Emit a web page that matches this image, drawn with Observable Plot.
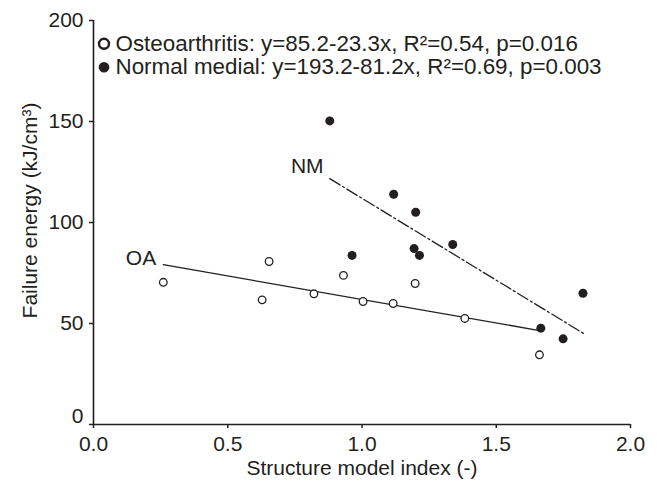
<!DOCTYPE html>
<html>
<head>
<meta charset="utf-8">
<script src="https://cdn.jsdelivr.net/npm/d3@7"></script>
<script src="https://cdn.jsdelivr.net/npm/@observablehq/plot@0.6"></script>
<style>
  html, body { margin: 0; padding: 0; background: #fff; }
</style>
</head>
<body>
<div id="chart"></div>
<script>
// Osteoarthritis (open circles)
const oaX = [0.26, 0.628, 0.654, 0.821, 0.931, 1.004, 1.116, 1.198, 1.383, 1.661];
const oaY = [70.4, 61.7, 80.7, 64.7, 73.8, 60.9, 59.9, 69.8, 52.5, 34.5];
// Normal medial (filled circles)
const nmX = [0.880, 0.963, 1.118, 1.194, 1.200, 1.214, 1.338, 1.666, 1.749, 1.823];
const nmY = [150.3, 83.7, 114.0, 87.1, 105.1, 83.7, 89.1, 47.7, 42.4, 65.0];
// Regression line end points
const oaLineX = [0.26, 1.666];
const oaLineY = [79.1, 46.4];
const nmLineX = [0.88, 1.826];
const nmLineY = [121.7, 45.0];
// Line labels
const lineLabels = ["OA", "NM"];
const lineLabelX = [0.177, 0.796];
const lineLabelY = [82.3, 127.9];
// Legend texts
const legendTexts = [
  "Osteoarthritis: y=85.2-23.3x, R\u00B2=0.54, p=0.016",
  "Normal medial: y=193.2-81.2x, R\u00B2=0.69, p=0.003"
];
const xTicks = [0, 0.5, 1.0, 1.5, 2.0];
const yTicks = [0, 50, 100, 150, 200];
const xLabel = "Structure model index (-)";
const yLabel = "Failure energy (kJ/cm\u00B3)";

const ink = "#231f20";
const oa = oaX.map((x, i) => ({x, y: oaY[i]}));
const nm = nmX.map((x, i) => ({x, y: nmY[i]}));
const oaLine = oaLineX.map((x, i) => ({x, y: oaLineY[i]}));
const nmLine = nmLineX.map((x, i) => ({x, y: nmLineY[i]}));
const labels = lineLabels.map((t, i) => ({t, x: lineLabelX[i], y: lineLabelY[i]}));

const chart = Plot.plot({
  width: 657,
  height: 486,
  marginLeft: 93,
  marginRight: 27,
  marginTop: 20,
  marginBottom: 62,
  style: {fontFamily: "'Liberation Sans', Arial, sans-serif", fontSize: "21px", color: ink, background: "#fff"},
  x: {domain: [0, 2]},
  y: {domain: [0, 200]},
  marks: [
    Plot.axisX(xTicks, {tickSize: 4, tickPadding: 8, tickFormat: d3.format(".1f"), stroke: ink, fill: ink, strokeWidth: 1.5, label: null}),
    Plot.axisY(yTicks, {tickSize: 4, tickPadding: 6, tickFormat: d => d === 0 ? "" : d, stroke: ink, fill: ink, strokeWidth: 1.5, label: null}),
    Plot.text([0], {x: 0, y: d => d, text: d => String(d), textAnchor: "end", dx: -10, dy: -8, fill: ink}),
    Plot.ruleX([0], {stroke: ink, strokeWidth: 1.6}),
    Plot.ruleY([0], {stroke: ink, strokeWidth: 1.6}),
    Plot.text([xLabel], {frameAnchor: "bottom", dy: 44, lineAnchor: "middle", textAnchor: "middle", text: d => d, fill: ink}),
    Plot.text([yLabel], {frameAnchor: "left", dx: -63, dy: -12, rotate: -90, textAnchor: "middle", lineAnchor: "middle", text: d => d, fill: ink}),
    Plot.line(oaLine, {x: "x", y: "y", stroke: ink, strokeWidth: 1.3}),
    Plot.line(nmLine, {x: "x", y: "y", stroke: ink, strokeWidth: 1.3, strokeDasharray: "12,3,2,3"}),
    Plot.dot(oa, {x: "x", y: "y", r: 3.8, fill: "#fff", stroke: ink, strokeWidth: 1.3}),
    Plot.dot(nm, {x: "x", y: "y", r: 4.5, fill: ink, stroke: "none"}),
    Plot.text(labels, {x: "x", y: "y", text: "t", fill: ink}),
    // legend
    Plot.dot([0], {frameAnchor: "top-left", dx: 10.5, dy: 23.3, r: 5, fill: "#fff", stroke: ink, strokeWidth: 2.4}),
    Plot.dot([0], {frameAnchor: "top-left", dx: 10.5, dy: 46.7, r: 5.3, fill: ink}),
    Plot.text([legendTexts[0]], {frameAnchor: "top-left", dx: 22, dy: 23.3, text: d => d, textAnchor: "start", lineAnchor: "middle", fontSize: 22.4, fill: ink}),
    Plot.text([legendTexts[1]], {frameAnchor: "top-left", dx: 22, dy: 46.7, text: d => d, textAnchor: "start", lineAnchor: "middle", fontSize: 22.4, fill: ink})
  ]
});
document.getElementById("chart").appendChild(chart);
</script>
</body>
</html>
